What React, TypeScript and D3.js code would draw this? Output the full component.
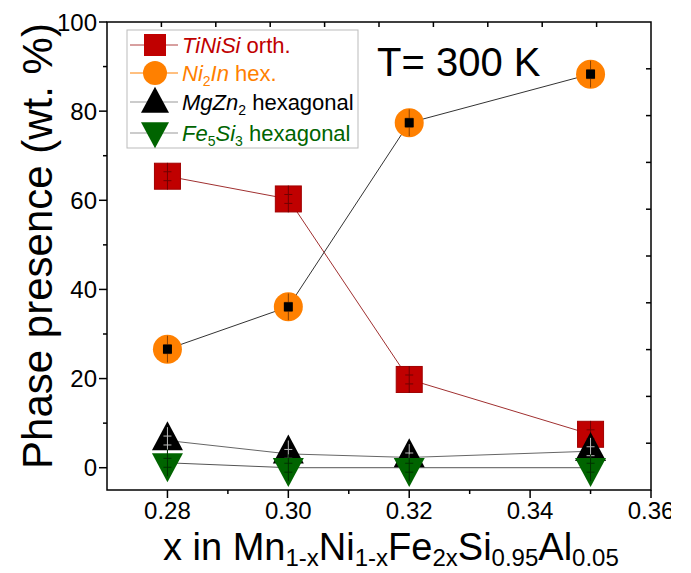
import React from "react";
import * as d3 from "d3";

// composition x in Mn1-xNi1-xFe2xSi0.95Al0.05
const xValues = [0.28, 0.3, 0.32, 0.35];
const tiNiSi = [65.4, 60.3, 19.8, 7.5];
const ni2In = [26.6, 36.1, 77.4, 88.3];
const mgZn2 = [6.1, 3.1, 2.3, 3.7];
const fe5Si3 = [1.1, 0, 0, 0];
const errBar = [3, 3, 3, 3];

const xTicks = [0.28, 0.3, 0.32, 0.34, 0.36];
const xMinor = [0.29, 0.31, 0.33, 0.35];
const yTicks = [0, 20, 40, 60, 80, 100];
const yMinor = [10, 30, 50, 70, 90];

const W = 691;
const H = 573;
const FONT = "Arial, 'Liberation Sans', Helvetica, sans-serif";

const RED = "#C00000";
const ORANGE = "#FF8000";
const GREEN = "#006400";

const upTri = (w: number, h: number) =>
	`M0,${(-2 * h) / 3}L${w / 2},${h / 3}L${-w / 2},${h / 3}Z`;
const downTri = (w: number, h: number) =>
	`M0,${(2 * h) / 3}L${w / 2},${-h / 3}L${-w / 2},${-h / 3}Z`;

const App: React.FC = () => {
	const x = d3.scaleLinear().domain([0.27, 0.36]).range([107, 651]);
	const y = d3.scaleLinear().domain([-5, 100]).range([490, 22]);
	const [x0, x1] = x.range();
	const [y0, y1] = y.range();

	const line = d3
		.line<number>()
		.x((_, i) => x(xValues[i]))
		.y((d) => y(d));

	const errors = (vals: number[], color: string) =>
		vals.map((v, i) => {
			const cx = x(xValues[i]);
			const ya = y(v + errBar[i]);
			const yb = y(v - errBar[i]);
			const c1 = y(v + 1);
			const c2 = y(v - 1);
			return (
				<g key={"e" + i} stroke={color} strokeWidth={1}>
					<line x1={cx} x2={cx} y1={ya} y2={yb} />
					<line x1={cx - 4} x2={cx + 4} y1={c1} y2={c1} />
					<line x1={cx - 4} x2={cx + 4} y1={c2} y2={c2} />
				</g>
			);
		});

	// top and right axes have 10 equal divisions, inward ticks
	const topTicks = d3.range(1, 10).map((k) => x0 + ((x1 - x0) * k) / 10);
	const rightTicks = d3.range(1, 10).map((k) => y1 + ((y0 - y1) * k) / 10);

	const legendRows = [45, 73, 102, 133];

	return (
		<svg
			width={W}
			height={H}
			style={{ position: "absolute", left: 0, top: 0, background: "#fff" }}
			fontFamily={FONT}
		>
			<defs>
				<clipPath id="clipTicks">
					<rect x={0} y={0} width={671} height={H} />
				</clipPath>
			</defs>

			{/* frame */}
			<rect
				x={x0}
				y={y1}
				width={x1 - x0}
				height={y0 - y1}
				fill="none"
				stroke="#000"
				strokeWidth={1.5}
			/>

			{/* bottom ticks */}
			{xTicks.map((t) => (
				<line key={"xt" + t} x1={x(t)} x2={x(t)} y1={y0} y2={y0 + 8} stroke="#000" strokeWidth={1.5} />
			))}
			{xMinor.map((t) => (
				<line key={"xm" + t} x1={x(t)} x2={x(t)} y1={y0} y2={y0 + 4} stroke="#000" strokeWidth={1.5} />
			))}
			<g clipPath="url(#clipTicks)">
				{xTicks.map((t) => (
					<text key={"xl" + t} x={x(t)} y={519} fontSize={24} textAnchor="middle">
						{d3.format(".2f")(t)}
					</text>
				))}
			</g>

			{/* left ticks */}
			{yTicks.map((t) => (
				<line key={"yt" + t} x1={x0 - 8} x2={x0} y1={y(t)} y2={y(t)} stroke="#000" strokeWidth={1.5} />
			))}
			{yMinor.map((t) => (
				<line key={"ym" + t} x1={x0 - 4} x2={x0} y1={y(t)} y2={y(t)} stroke="#000" strokeWidth={1.5} />
			))}
			{yTicks.map((t) => (
				<text key={"yl" + t} x={x0 - 10} y={y(t)} dy="0.36em" fontSize={24} textAnchor="end">
					{t}
				</text>
			))}

			{/* top / right inward ticks */}
			{topTicks.map((t, i) => (
				<line key={"tt" + i} x1={t} x2={t} y1={y1} y2={y1 + 5} stroke="#000" strokeWidth={1.5} />
			))}
			{rightTicks.map((t, i) => (
				<line key={"rt" + i} x1={x1 - 5} x2={x1} y1={t} y2={t} stroke="#000" strokeWidth={1.5} />
			))}

			{/* axis titles */}
			<text x={163} y={560} fontSize={38}>
				x in Mn
				<tspan fontSize={24} dy={6}>1-x</tspan>
				<tspan dy={-6}>Ni</tspan>
				<tspan fontSize={24} dy={6}>1-x</tspan>
				<tspan dy={-6}>Fe</tspan>
				<tspan fontSize={24} dy={6}>2x</tspan>
				<tspan dy={-6}>Si</tspan>
				<tspan fontSize={24} dy={6}>0.95</tspan>
				<tspan dy={-6}>Al</tspan>
				<tspan fontSize={24} dy={6}>0.05</tspan>
			</text>
			<text
				transform="translate(52,246) rotate(-90)"
				fontSize={42}
				textAnchor="middle"
			>
				Phase presence (wt. %)
			</text>

			<text x={377} y={76} fontSize={40}>
				T= 300 K
			</text>

			{/* series lines */}
			<path d={line(tiNiSi) ?? ""} fill="none" stroke="#A03030" strokeWidth={1} />
			<path d={line(ni2In) ?? ""} fill="none" stroke="#333" strokeWidth={1} />
			<path d={line(mgZn2) ?? ""} fill="none" stroke="#666" strokeWidth={1} />
			<path d={line(fe5Si3) ?? ""} fill="none" stroke="#555" strokeWidth={1} />

			{/* TiNiSi squares */}
			{tiNiSi.map((v, i) => (
				<rect
					key={"sq" + i}
					x={x(xValues[i]) - 13}
					y={y(v) - 13}
					width={26}
					height={26}
					fill={RED}
					stroke="#A00000"
					strokeWidth={1}
				/>
			))}
			{errors(tiNiSi, "#700000")}

			{/* Ni2In circles */}
			{ni2In.map((v, i) => (
				<circle key={"ci" + i} cx={x(xValues[i])} cy={y(v)} r={14.5} fill={ORANGE} />
			))}
			{errors(ni2In, "#8B4000")}
			{ni2In.map((v, i) => (
				<rect key={"ci2" + i} x={x(xValues[i]) - 4.5} y={y(v) - 4.5} width={9} height={9} fill="#000" />
			))}

			{/* MgZn2 up triangles */}
			{mgZn2.map((v, i) => (
				<path
					key={"ut" + i}
					d={upTri(31, 29)}
					transform={`translate(${x(xValues[i])},${y(v)})`}
					fill="#000"
				/>
			))}
			{errors(mgZn2, "#bbb")}

			{/* Fe5Si3 down triangles */}
			{fe5Si3.map((v, i) => (
				<path
					key={"dt" + i}
					d={downTri(31, 29)}
					transform={`translate(${x(xValues[i])},${y(v)})`}
					fill={GREEN}
				/>
			))}
			{errors(fe5Si3, "#003000")}

			{/* legend */}
			<rect x={127} y={30} width={231} height={118} fill="#fff" stroke="#bbb" strokeWidth={1} />
			<line x1={130} x2={178} y1={legendRows[0]} y2={legendRows[0]} stroke="#B04040" />
			<rect x={144} y={legendRows[0] - 11} width={22} height={22} fill={RED} />
			<text x={182} y={legendRows[0] + 8} fontSize={22} fill={RED}>
				<tspan fontStyle="italic">TiNiSi</tspan> orth.
			</text>

			<line x1={130} x2={178} y1={legendRows[1]} y2={legendRows[1]} stroke={ORANGE} />
			<circle cx={155} cy={legendRows[1]} r={12} fill={ORANGE} />
			<text x={182} y={legendRows[1] + 8} fontSize={22} fill={ORANGE}>
				<tspan fontStyle="italic">Ni</tspan>
				<tspan fontSize={14} dy={5}>2</tspan>
				<tspan fontStyle="italic" dy={-5}>In</tspan> hex.
			</text>

			<line x1={130} x2={178} y1={legendRows[2]} y2={legendRows[2]} stroke="#999" />
			<path d={upTri(28, 26)} transform={`translate(155,${legendRows[2] + 2})`} fill="#000" />
			<text x={182} y={legendRows[2] + 8} fontSize={22} fill="#000">
				<tspan fontStyle="italic">MgZn</tspan>
				<tspan fontSize={14} dy={5}>2</tspan>
				<tspan dy={-5}> hexagonal</tspan>
			</text>

			<line x1={130} x2={178} y1={legendRows[3]} y2={legendRows[3]} stroke="#999" />
			<path d={downTri(28, 26)} transform={`translate(155,${legendRows[3] - 2})`} fill={GREEN} />
			<text x={182} y={legendRows[3] + 8} fontSize={22} fill={GREEN}>
				<tspan fontStyle="italic">Fe</tspan>
				<tspan fontSize={14} dy={5}>5</tspan>
				<tspan fontStyle="italic" dy={-5}>Si</tspan>
				<tspan fontSize={14} dy={5}>3</tspan>
				<tspan dy={-5}> hexagonal</tspan>
			</text>
		</svg>
	);
};

export default App;
